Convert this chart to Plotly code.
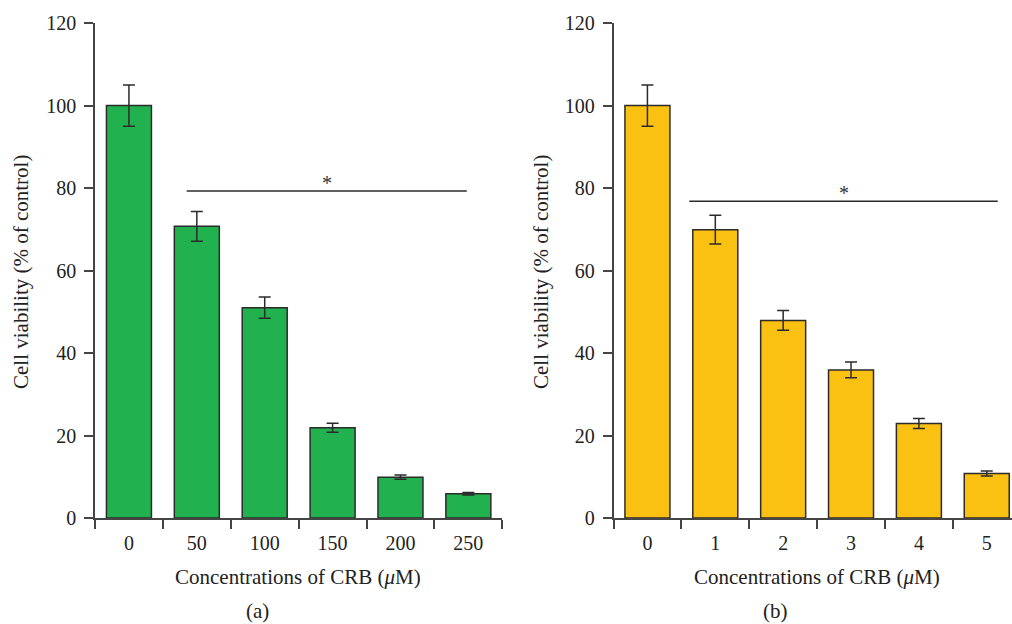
import plotly.graph_objects as go

# ---- data ----
conc_a = ["0", "50", "100", "150", "200", "250"]
viab_a = [100, 70.7, 51, 21.9, 9.9, 5.9]
err_a = [5, 3.6, 2.6, 1.1, 0.5, 0.3]

conc_b = ["0", "1", "2", "3", "4", "5"]
viab_b = [100, 69.9, 47.9, 35.9, 22.9, 10.8]
err_b = [5, 3.5, 2.4, 1.9, 1.2, 0.6]

sig_a = 79.3
sig_b = 76.8

y_ticks = [0, 20, 40, 60, 80, 100, 120]

W, H = 1012, 624
FONT = "Liberation Serif"
AX = "#454545"
GREEN = "#21B14F"
YELLOW = "#FBC112"

def px(x):
    return x / W

def py(y):
    return (H - y) / H

fig = go.Figure()

fig.add_trace(go.Bar(
    x=conc_a, y=viab_a, xaxis="x", yaxis="y",
    marker=dict(color=GREEN, line=dict(color="#2b2b2b", width=1.5)),
    error_y=dict(type="data", array=err_a, visible=True, color="#2b2b2b", thickness=1.5, width=6),
    showlegend=False,
))
fig.add_trace(go.Bar(
    x=conc_b, y=viab_b, xaxis="x2", yaxis="y2",
    marker=dict(color=YELLOW, line=dict(color="#2b2b2b", width=1.5)),
    error_y=dict(type="data", array=err_b, visible=True, color="#2b2b2b", thickness=1.5, width=6),
    showlegend=False,
))

ydom = [py(518), py(23)]

xcommon = dict(
    type="category", showline=True, linecolor=AX, linewidth=1.5,
    ticks="outside", ticklen=9, tickcolor=AX, tickwidth=1.5,
    tickson="boundaries", showgrid=False, zeroline=False,
    tickfont=dict(family=FONT, size=20, color="#222"),
    ticklabelstandoff=6,
    fixedrange=True, automargin=False,
)
ycommon = dict(
    range=[0, 120], tickvals=y_ticks, showline=True, linecolor=AX, linewidth=1.5,
    ticks="outside", ticklen=9, tickcolor=AX, tickwidth=1.5,
    showgrid=False, zeroline=False,
    tickfont=dict(family=FONT, size=20, color="#222"),
    ticklabelstandoff=4,
    fixedrange=True, automargin=False,
)

fig.update_layout(
    width=W, height=H,
    margin=dict(l=0, r=0, t=0, b=0, pad=0, autoexpand=False),
    paper_bgcolor="white", plot_bgcolor="white",
    bargap=0.337,
    xaxis=dict(domain=[px(95), px(502.3)], range=[-0.5, 5.5], anchor="y", **xcommon),
    yaxis=dict(domain=ydom, anchor="x", **ycommon),
    xaxis2=dict(domain=[px(613.5), 1.0], range=[-0.5, 5.372], anchor="y2", **xcommon),
    yaxis2=dict(domain=ydom, anchor="x2", **ycommon),
)

# significance lines
fig.add_shape(type="line", xref="x", yref="y", x0=0.851, x1=4.977, y0=sig_a, y1=sig_a,
              line=dict(color="#2b2b2b", width=1.5))
fig.add_shape(type="line", xref="x2", yref="y2", x0=0.617, x1=5.162, y0=sig_b, y1=sig_b,
              line=dict(color="#2b2b2b", width=1.5))

ann = []
ann.append(dict(x=(0.851 + 4.977) / 2, y=sig_a, xref="x", yref="y", text="*", showarrow=False,
                yanchor="bottom", yshift=-5, font=dict(family=FONT, size=20, color="#333")))
ann.append(dict(x=(0.617 + 5.162) / 2, y=sig_b, xref="x2", yref="y2", text="*", showarrow=False,
                yanchor="bottom", yshift=-5, font=dict(family=FONT, size=20, color="#333")))

tf = dict(family=FONT, size=21, color="#222")
ann.append(dict(x=px(298), y=py(577), xref="paper", yref="paper", text="Concentrations of CRB (<i>μ</i>M)",
                showarrow=False, font=tf, xanchor="center", yanchor="middle"))
ann.append(dict(x=px(817), y=py(577), xref="paper", yref="paper", text="Concentrations of CRB (<i>μ</i>M)",
                showarrow=False, font=tf, xanchor="center", yanchor="middle"))
ann.append(dict(x=px(257), y=py(611), xref="paper", yref="paper", text="(a)",
                showarrow=False, font=tf, xanchor="center", yanchor="middle"))
ann.append(dict(x=px(775), y=py(611), xref="paper", yref="paper", text="(b)",
                showarrow=False, font=tf, xanchor="center", yanchor="middle"))
ann.append(dict(x=px(21), y=py(272), xref="paper", yref="paper", text="Cell viability (% of control)",
                showarrow=False, font=tf, textangle=-90, xanchor="center", yanchor="middle"))
ann.append(dict(x=px(541), y=py(272), xref="paper", yref="paper", text="Cell viability (% of control)",
                showarrow=False, font=tf, textangle=-90, xanchor="center", yanchor="middle"))

fig.update_layout(annotations=ann)

fig.write_html("out.html")
